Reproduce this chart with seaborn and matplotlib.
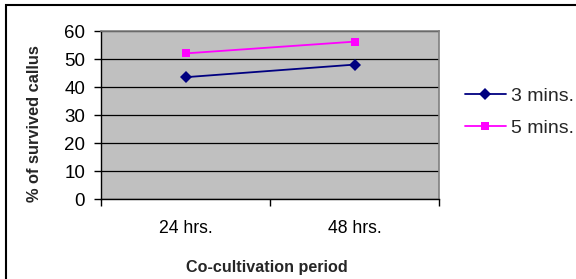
import matplotlib
matplotlib.use("Agg")
import matplotlib.pyplot as plt
import pandas as pd
import seaborn as sns
from matplotlib.patches import Rectangle

periods = ["24 hrs.", "48 hrs."]
series_names = ["3 mins.", "5 mins."]
survived_3min = [43.5, 48.0]
survived_5min = [52.0, 56.2]

df = pd.DataFrame({
    "period": periods * 2,
    "treatment": [series_names[0]] * 2 + [series_names[1]] * 2,
    "survived": survived_3min + survived_5min,
})

sns.set_theme(style="white")
plt.rcParams["font.family"] = ["Liberation Sans", "DejaVu Sans"]

fig = plt.figure(figsize=(5.76, 2.79), dpi=100)
ax = fig.add_axes([101 / 576, 1 - 199 / 279, 338 / 576, 168 / 279])

palette = {"3 mins.": "#000080", "5 mins.": "#FF00FF"}
markers = {"3 mins.": "D", "5 mins.": "s"}
sns.lineplot(data=df, x="period", y="survived", hue="treatment", style="treatment",
             palette=palette, markers=markers, dashes=False, markersize=6,
             markeredgewidth=0, linewidth=1.3, ax=ax)

ax.set_facecolor("#C0C0C0")
ax.set_xlim(-0.5, 1.5)
ax.set_ylim(0, 60)
ax.set_yticks(range(0, 61, 10))
ax.yaxis.grid(True, color="#000000", linewidth=0.9)
ax.set_axisbelow(True)
ax.set_xticks([0, 1])
ax.set_xticklabels(periods)
ax.set_xticks([-0.5, 0.5, 1.5], minor=True)
ax.tick_params(axis="x", which="major", length=0, labelsize=12.7, pad=15, colors="black")
ax.tick_params(axis="x", which="minor", length=5, width=1, color="black", direction="out", bottom=True)
ax.tick_params(axis="y", length=5, width=1, color="black", direction="out", left=True,
               labelsize=13.5, pad=6.5, labelcolor="black")

for side in ["top", "right"]:
    ax.spines[side].set_color("#808080")
    ax.spines[side].set_linewidth(1.2)
for side in ["left", "bottom"]:
    ax.spines[side].set_color("black")
    ax.spines[side].set_linewidth(1)

ax.set_xlabel("Co-cultivation period", fontsize=11.6, fontweight="bold")
ax.xaxis.set_label_coords(0.491, -0.363)
ax.set_ylabel("% of survived callus", fontsize=11.8, fontweight="bold")
ax.yaxis.set_label_coords(-0.1746, 0.449)

ax.legend(loc="center left", bbox_to_anchor=(465 / 576, 1 - 112 / 279),
          bbox_transform=fig.transFigure, frameon=False, fontsize=14,
          handlelength=2.1, handletextpad=0.25, labelspacing=0.75,
          borderpad=0, borderaxespad=0, title=None)

fig.patches.append(Rectangle((6 / 576, -0.01), 1.0, 1 - 5 / 279 + 0.01,
                             transform=fig.transFigure, fill=False,
                             edgecolor="black", linewidth=1.5))

fig.savefig("out.png", dpi=100)
